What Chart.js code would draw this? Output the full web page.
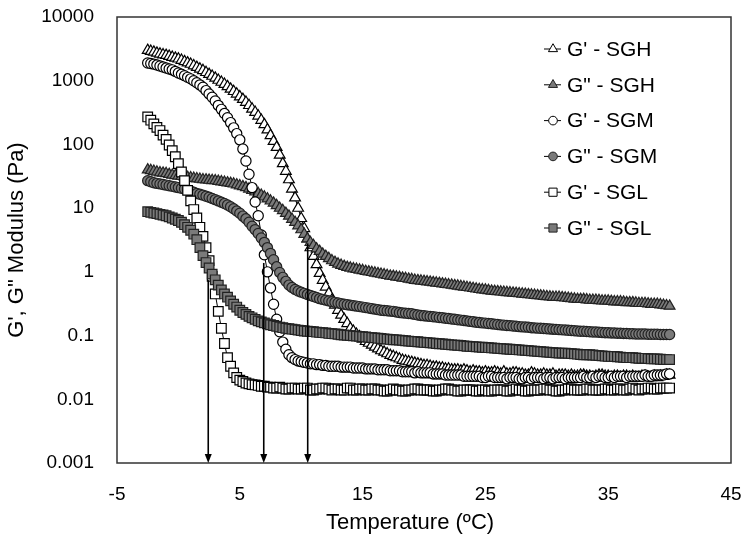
<!DOCTYPE html>
<html>
<head>
<meta charset="utf-8">
<script src="https://cdn.jsdelivr.net/npm/chart.js@4/dist/chart.umd.min.js"></script>
<style>
  body { margin: 0; background: #fff; }
</style>
</head>
<body>
<canvas id="grafico" width="743" height="548"></canvas>
<script>
// temperatura (ºC), uma linha = 2.5 ºC
const temps = [
  -2.5, -2.25, -2, -1.75, -1.5, -1.25, -1, -0.75, -0.5, -0.25,
  0, 0.25, 0.5, 0.75, 1, 1.25, 1.5, 1.75, 2, 2.25,
  2.5, 2.75, 3, 3.25, 3.5, 3.75, 4, 4.25, 4.5, 4.75,
  5, 5.25, 5.5, 5.75, 6, 6.25, 6.5, 6.75, 7, 7.25,
  7.5, 7.75, 8, 8.25, 8.5, 8.75, 9, 9.25, 9.5, 9.75,
  10, 10.25, 10.5, 10.75, 11, 11.25, 11.5, 11.75, 12, 12.25,
  12.5, 12.75, 13, 13.25, 13.5, 13.75, 14, 14.25, 14.5, 14.75,
  15, 15.25, 15.5, 15.75, 16, 16.25, 16.5, 16.75, 17, 17.25,
  17.5, 17.75, 18, 18.25, 18.5, 18.75, 19, 19.25, 19.5, 19.75,
  20, 20.25, 20.5, 20.75, 21, 21.25, 21.5, 21.75, 22, 22.25,
  22.5, 22.75, 23, 23.25, 23.5, 23.75, 24, 24.25, 24.5, 24.75,
  25, 25.25, 25.5, 25.75, 26, 26.25, 26.5, 26.75, 27, 27.25,
  27.5, 27.75, 28, 28.25, 28.5, 28.75, 29, 29.25, 29.5, 29.75,
  30, 30.25, 30.5, 30.75, 31, 31.25, 31.5, 31.75, 32, 32.25,
  32.5, 32.75, 33, 33.25, 33.5, 33.75, 34, 34.25, 34.5, 34.75,
  35, 35.25, 35.5, 35.75, 36, 36.25, 36.5, 36.75, 37, 37.25,
  37.5, 37.75, 38, 38.25, 38.5, 38.75, 39, 39.25, 39.5, 39.75,
  40];

const seriesNames = ["G' - SGH", 'G" - SGH', "G' - SGM", 'G" - SGM', "G' - SGL", 'G" - SGL'];

// G' SGH (Pa)
const gpSGH = [
  3000, 2900, 2820, 2720, 2630, 2560, 2500, 2420, 2340, 2270,
  2200, 2100, 2000, 1910, 1820, 1720, 1620, 1530, 1450, 1350,
  1260, 1180, 1100, 1020, 950, 880, 810, 740, 680, 620,
  560, 510, 460, 410, 360, 320, 280, 240, 205, 170,
  138, 112, 90, 68, 50, 38, 28, 20, 14.5, 10,
  6.9, 4.8, 3.3, 2.4, 1.75, 1.3, 0.95, 0.74, 0.58, 0.46,
  0.36, 0.30, 0.25, 0.21, 0.18, 0.155, 0.13, 0.117, 0.105, 0.096,
  0.088, 0.081, 0.076, 0.071, 0.066, 0.062, 0.058, 0.055, 0.052, 0.049,
  0.047, 0.045, 0.043, 0.041, 0.040, 0.039, 0.038, 0.037, 0.036, 0.035,
  0.034, 0.034, 0.033, 0.032, 0.032, 0.031, 0.031, 0.030, 0.030, 0.029,
  0.029, 0.029, 0.028, 0.029, 0.028, 0.027, 0.028, 0.027, 0.027, 0.026,
  0.027, 0.026, 0.026, 0.027, 0.026, 0.025, 0.027, 0.025, 0.025, 0.026,
  0.026, 0.025, 0.025, 0.024, 0.024, 0.026, 0.025, 0.024, 0.024, 0.025,
  0.024, 0.024, 0.025, 0.023, 0.024, 0.024, 0.024, 0.023, 0.024, 0.023,
  0.023, 0.024, 0.024, 0.023, 0.023, 0.022, 0.023, 0.024, 0.024, 0.023,
  0.023, 0.022, 0.023, 0.023, 0.022, 0.023, 0.023, 0.022, 0.023, 0.022,
  0.022, 0.023, 0.023, 0.022, 0.022, 0.023, 0.022, 0.023, 0.023, 0.024,
  0.024];

// G" SGH (Pa)
const gppSGH = [
  40, 39, 38, 37, 36, 35.5, 35, 34, 33, 32.5,
  32, 31.5, 31, 30.5, 30, 29.5, 29, 28.5, 28, 27.8,
  27.5, 27.2, 27, 26.5, 26, 25.5, 25, 24.5, 24, 23.2,
  22.5, 21.8, 21, 20, 19, 18, 17, 16, 15, 14,
  13, 12, 11, 10, 9.2, 8.3, 7.5, 6.7, 6, 5.3,
  4.6, 3.9, 3.3, 2.9, 2.6, 2.3, 2.1, 1.9, 1.75, 1.62,
  1.5, 1.41, 1.33, 1.27, 1.22, 1.18, 1.15, 1.12, 1.1, 1.07,
  1.05, 1.02, 1.0, 0.98, 0.96, 0.94, 0.92, 0.9, 0.88, 0.86,
  0.85, 0.83, 0.82, 0.8, 0.79, 0.77, 0.76, 0.74, 0.73, 0.72,
  0.71, 0.7, 0.69, 0.68, 0.67, 0.66, 0.65, 0.64, 0.63, 0.62,
  0.61, 0.6, 0.59, 0.58, 0.57, 0.56, 0.55, 0.54, 0.53, 0.525,
  0.52, 0.51, 0.50, 0.495, 0.49, 0.485, 0.48, 0.475, 0.47, 0.465,
  0.46, 0.455, 0.45, 0.445, 0.44, 0.435, 0.43, 0.425, 0.42, 0.415,
  0.41, 0.405, 0.40, 0.40, 0.40, 0.395, 0.39, 0.385, 0.38, 0.375,
  0.37, 0.37, 0.37, 0.365, 0.36, 0.36, 0.36, 0.355, 0.35, 0.35,
  0.35, 0.345, 0.34, 0.34, 0.34, 0.335, 0.33, 0.33, 0.33, 0.325,
  0.32, 0.32, 0.32, 0.315, 0.31, 0.31, 0.31, 0.305, 0.30, 0.295,
  0.29];

// G' SGM (Pa)
const gpSGM = [
  1900, 1860, 1820, 1760, 1700, 1640, 1580, 1530, 1480, 1400,
  1320, 1260, 1200, 1130, 1070, 1000, 930, 860, 790, 700,
  620, 550, 480, 410, 355, 305, 263, 220, 182, 148,
  118, 85, 55, 34, 21, 12.5, 7.6, 3.8, 1.85, 1.0,
  0.56, 0.31, 0.18, 0.115, 0.079, 0.061, 0.050, 0.045, 0.042, 0.040,
  0.039, 0.038, 0.037, 0.036, 0.036, 0.035, 0.035, 0.034, 0.034, 0.033,
  0.033, 0.033, 0.033, 0.032, 0.032, 0.032, 0.032, 0.031, 0.031, 0.031,
  0.031, 0.030, 0.030, 0.030, 0.030, 0.029, 0.029, 0.029, 0.029, 0.028,
  0.028, 0.028, 0.028, 0.027, 0.027, 0.027, 0.027, 0.026, 0.027, 0.026,
  0.026, 0.026, 0.026, 0.025, 0.025, 0.025, 0.025, 0.024, 0.024, 0.024,
  0.024, 0.024, 0.024, 0.023, 0.023, 0.023, 0.023, 0.023, 0.023, 0.022,
  0.022, 0.023, 0.023, 0.022, 0.022, 0.022, 0.022, 0.021, 0.022, 0.022,
  0.022, 0.021, 0.021, 0.022, 0.022, 0.021, 0.022, 0.022, 0.022, 0.021,
  0.022, 0.022, 0.021, 0.022, 0.022, 0.022, 0.021, 0.022, 0.022, 0.022,
  0.022, 0.022, 0.023, 0.022, 0.022, 0.023, 0.022, 0.023, 0.023, 0.022,
  0.022, 0.023, 0.022, 0.023, 0.023, 0.023, 0.022, 0.023, 0.023, 0.023,
  0.023, 0.023, 0.024, 0.023, 0.023, 0.024, 0.024, 0.024, 0.024, 0.025,
  0.025];

// G" SGM (Pa)
const gppSGM = [
  27, 26, 25, 24.5, 24, 23.5, 23, 22.5, 22, 21.5,
  21, 20.5, 20, 19.2, 18.5, 17.8, 17, 16.5, 16, 15.4,
  14.8, 14.2, 13.6, 13, 12.4, 11.8, 11.2, 10.5, 9.8, 9.0,
  8.3, 7.5, 6.8, 6.0, 5.2, 4.6, 4.0, 3.4, 2.9, 2.4,
  1.95, 1.55, 1.2, 0.98, 0.82, 0.71, 0.62, 0.57, 0.53, 0.5,
  0.48, 0.46, 0.44, 0.425, 0.41, 0.395, 0.38, 0.37, 0.36, 0.35,
  0.34, 0.332, 0.325, 0.317, 0.31, 0.305, 0.30, 0.295, 0.29, 0.285,
  0.28, 0.275, 0.27, 0.265, 0.26, 0.255, 0.25, 0.247, 0.245, 0.242,
  0.24, 0.235, 0.23, 0.227, 0.225, 0.222, 0.22, 0.215, 0.21, 0.207,
  0.205, 0.202, 0.20, 0.197, 0.195, 0.192, 0.19, 0.187, 0.185, 0.182,
  0.18, 0.177, 0.175, 0.172, 0.17, 0.167, 0.165, 0.162, 0.16, 0.158,
  0.157, 0.155, 0.153, 0.151, 0.149, 0.147, 0.146, 0.144, 0.143, 0.141,
  0.140, 0.138, 0.137, 0.136, 0.135, 0.133, 0.132, 0.131, 0.130, 0.129,
  0.128, 0.127, 0.126, 0.125, 0.124, 0.123, 0.122, 0.121, 0.120, 0.119,
  0.118, 0.117, 0.117, 0.116, 0.115, 0.114, 0.114, 0.113, 0.112, 0.111,
  0.111, 0.110, 0.110, 0.109, 0.109, 0.108, 0.108, 0.107, 0.107, 0.106,
  0.106, 0.106, 0.106, 0.105, 0.105, 0.105, 0.105, 0.104, 0.104, 0.104,
  0.104];

// G' SGL (Pa)
const gpSGL = [
  270, 240, 210, 185, 165, 140, 120, 98, 80, 64,
  50, 37, 27, 19, 13, 9.5, 7, 5, 3.6, 2.4,
  1.5, 0.85, 0.45, 0.24, 0.13, 0.075, 0.045, 0.033, 0.026, 0.022,
  0.020, 0.019, 0.018, 0.0175, 0.017, 0.0168, 0.0165, 0.016, 0.016, 0.0155,
  0.0155, 0.015, 0.015, 0.0155, 0.015, 0.0145, 0.0145, 0.015, 0.015, 0.0145,
  0.0145, 0.015, 0.015, 0.014, 0.014, 0.0145, 0.0145, 0.015, 0.015, 0.0145,
  0.014, 0.0145, 0.0145, 0.014, 0.014, 0.015, 0.015, 0.014, 0.014, 0.0145,
  0.0145, 0.014, 0.014, 0.0145, 0.0145, 0.014, 0.014, 0.0135, 0.0135, 0.014,
  0.0145, 0.014, 0.014, 0.0135, 0.0135, 0.014, 0.014, 0.0145, 0.0145, 0.014,
  0.014, 0.014, 0.014, 0.0135, 0.0135, 0.014, 0.014, 0.0145, 0.0145, 0.014,
  0.014, 0.0135, 0.0135, 0.014, 0.014, 0.014, 0.014, 0.0135, 0.0135, 0.014,
  0.014, 0.0135, 0.0135, 0.014, 0.014, 0.014, 0.014, 0.0135, 0.0135, 0.014,
  0.0145, 0.014, 0.014, 0.0135, 0.0135, 0.014, 0.014, 0.014, 0.014, 0.0145,
  0.0145, 0.014, 0.014, 0.0135, 0.0135, 0.014, 0.014, 0.0145, 0.0145, 0.014,
  0.014, 0.014, 0.014, 0.0145, 0.0145, 0.014, 0.014, 0.014, 0.014, 0.0145,
  0.0145, 0.014, 0.014, 0.0145, 0.0145, 0.014, 0.014, 0.0145, 0.015, 0.0145,
  0.014, 0.0145, 0.0145, 0.015, 0.015, 0.0145, 0.0145, 0.015, 0.015, 0.015,
  0.015];

// G" SGL (Pa)
const gppSGL = [
  8.8, 8.6, 8.4, 8.2, 8.0, 7.8, 7.6, 7.3, 7.0, 6.7,
  6.4, 6.0, 5.5, 5.0, 4.5, 3.9, 3.2, 2.4, 1.8, 1.4,
  1.15, 0.92, 0.75, 0.62, 0.52, 0.45, 0.40, 0.35, 0.31, 0.28,
  0.25, 0.23, 0.215, 0.2, 0.19, 0.18, 0.17, 0.164, 0.158, 0.153,
  0.148, 0.144, 0.14, 0.136, 0.133, 0.13, 0.128, 0.126, 0.124, 0.122,
  0.12, 0.118, 0.117, 0.116, 0.115, 0.113, 0.112, 0.111, 0.11, 0.108,
  0.107, 0.106, 0.105, 0.103, 0.102, 0.101, 0.10, 0.099, 0.098, 0.097,
  0.096, 0.095, 0.094, 0.093, 0.092, 0.091, 0.09, 0.089, 0.088, 0.087,
  0.086, 0.0855, 0.085, 0.084, 0.083, 0.082, 0.081, 0.0805, 0.080, 0.079,
  0.078, 0.0775, 0.077, 0.076, 0.075, 0.0745, 0.074, 0.073, 0.072, 0.0715,
  0.071, 0.0705, 0.070, 0.069, 0.068, 0.0675, 0.067, 0.0665, 0.066, 0.0655,
  0.065, 0.0645, 0.064, 0.0635, 0.063, 0.0625, 0.062, 0.0615, 0.061, 0.0605,
  0.060, 0.0595, 0.059, 0.0585, 0.058, 0.0575, 0.057, 0.0565, 0.056, 0.0555,
  0.055, 0.0545, 0.054, 0.0535, 0.053, 0.053, 0.053, 0.0525, 0.052, 0.0515,
  0.051, 0.0505, 0.050, 0.050, 0.050, 0.0495, 0.049, 0.0485, 0.048, 0.0475,
  0.047, 0.047, 0.047, 0.0465, 0.046, 0.0455, 0.045, 0.045, 0.045, 0.0445,
  0.044, 0.044, 0.044, 0.0435, 0.043, 0.043, 0.043, 0.0425, 0.042, 0.042,
  0.042];

// setas: temperatura de cruzamento G' = G" e valor no topo da seta
const arrowTemps = [2.43, 6.95, 10.53];
const arrowTops = [0.74, 1.38, 2.8];

// eixos
const xTickValues = [-5, 5, 15, 25, 35, 45];
const xTickLabels = ['-5', '5', '15', '25', '35', '45'];
const yTickValues = [0.001, 0.01, 0.1, 1, 10, 100, 1000, 10000];
const yTickLabels = ['0.001', '0.01', '0.1', '1', '10', '100', '1000', '10000'];
const xTitle = 'Temperature (ºC)';
const yTitle = 'G\', G" Modulus (Pa)';

const FONT = '"Liberation Sans", Arial, sans-serif';

const allValues = [gpSGH, gppSGH, gpSGM, gppSGM, gpSGL, gppSGL];
const styles = ['triangle', 'triangle', 'circle', 'circle', 'rect', 'rect'];
const radii = [6.2, 6.2, 5.1, 5.1, 6.8, 6.8];

const datasets = allValues.map((vals, i) => {
  const filled = i % 2 === 1;
  return {
    label: seriesNames[i],
    data: temps.map((t, k) => ({ x: t, y: vals[k] })),
    borderColor: '#000',
    borderWidth: 1,
    pointStyle: styles[i],
    pointRadius: radii[i],
    pointBackgroundColor: filled ? '#7a7a7a' : '#fff',
    pointBorderColor: filled ? '#222' : '#000',
    pointBorderWidth: 1.2,
    order: 5 - i
  };
});

// moldura da área do gráfico
const framePlugin = {
  id: 'frame',
  beforeDatasetsDraw(chart) {
    const { ctx, chartArea: a } = chart;
    ctx.save();
    ctx.strokeStyle = '#333';
    ctx.lineWidth = 1.5;
    ctx.strokeRect(a.left, a.top, a.right - a.left, a.bottom - a.top);
    ctx.restore();
  }
};

// setas verticais até o eixo X
const arrowPlugin = {
  id: 'arrows',
  afterDatasetsDraw(chart) {
    const { ctx, scales } = chart;
    const bot = scales.y.getPixelForValue(yTickValues[0]);
    ctx.save();
    ctx.strokeStyle = '#000';
    ctx.fillStyle = '#000';
    ctx.lineWidth = 1.6;
    arrowTemps.forEach((t, i) => {
      const px = scales.x.getPixelForValue(t);
      const top = scales.y.getPixelForValue(arrowTops[i]);
      ctx.beginPath();
      ctx.moveTo(px, top);
      ctx.lineTo(px, bot - 6);
      ctx.stroke();
      ctx.beginPath();
      ctx.moveTo(px - 3.5, bot - 9);
      ctx.lineTo(px + 3.5, bot - 9);
      ctx.lineTo(px, bot);
      ctx.closePath();
      ctx.fill();
    });
    ctx.restore();
  }
};

// legenda dentro da área (canto superior direito) e título do eixo X
const legendPlugin = {
  id: 'innerLegend',
  afterDatasetsDraw(chart) {
    const { ctx, chartArea: a } = chart;
    const x0 = a.right - 187;
    const y0 = a.top + 32;
    const gap = 35.8;
    chart.data.datasets.forEach((ds, i) => {
      const y = y0 + i * gap;
      ctx.save();
      ctx.strokeStyle = '#000';
      ctx.lineWidth = 1;
      ctx.beginPath();
      ctx.moveTo(x0, y);
      ctx.lineTo(x0 + 17, y);
      ctx.stroke();
      ctx.fillStyle = ds.pointBackgroundColor;
      ctx.strokeStyle = ds.pointBorderColor;
      ctx.lineWidth = 1;
      Chart.helpers.drawPoint(ctx, { pointStyle: ds.pointStyle, radius: ds.pointRadius * 0.85, rotation: 0, borderWidth: 1 }, x0 + 9, y);
      ctx.fillStyle = '#000';
      ctx.font = '21px ' + FONT;
      ctx.textBaseline = 'middle';
      ctx.textAlign = 'left';
      ctx.fillText(ds.label, x0 + 23, y + 1);
      ctx.restore();
    });
    ctx.save();
    ctx.fillStyle = '#000';
    ctx.font = '22px ' + FONT;
    ctx.textAlign = 'center';
    ctx.textBaseline = 'middle';
    ctx.fillText(xTitle, (a.left + a.right) / 2 - 14, a.bottom + 60);
    ctx.restore();
  }
};

new Chart(document.getElementById('grafico').getContext('2d'), {
  type: 'line',
  data: { datasets: datasets },
  options: {
    responsive: false,
    animation: false,
    devicePixelRatio: 1,
    layout: { padding: { left: 0, top: 17, right: 12, bottom: 0 } },
    plugins: { legend: { display: false }, tooltip: { enabled: false } },
    scales: {
      x: {
        type: 'linear',
        min: -5,
        max: 45,
        grid: { display: false, drawTicks: false },
        border: { display: false },
        afterBuildTicks: s => { s.ticks = xTickValues.map(v => ({ value: v })); },
        afterFit: s => { s.height = 85; s.paddingLeft = 0; s.paddingRight = 0; },
        ticks: {
          padding: 20,
          color: '#000',
          font: { family: FONT, size: 19 },
          callback: (v, i) => xTickLabels[i]
        }
      },
      y: {
        type: 'logarithmic',
        min: 0.001,
        max: 10000,
        grid: { display: false, drawTicks: false },
        border: { display: false },
        afterBuildTicks: s => { s.ticks = yTickValues.map(v => ({ value: v })); },
        afterFit: s => { s.width = 117; s.paddingTop = 0; s.paddingBottom = 0; },
        ticks: {
          padding: 23,
          color: '#000',
          font: { family: FONT, size: 19 },
          callback: (v, i) => yTickLabels[i]
        },
        title: {
          display: true,
          text: yTitle,
          color: '#000',
          font: { family: FONT, size: 22 },
          padding: { top: 4, bottom: 0 }
        }
      }
    }
  },
  plugins: [framePlugin, arrowPlugin, legendPlugin]
});
</script>
</body>
</html>
